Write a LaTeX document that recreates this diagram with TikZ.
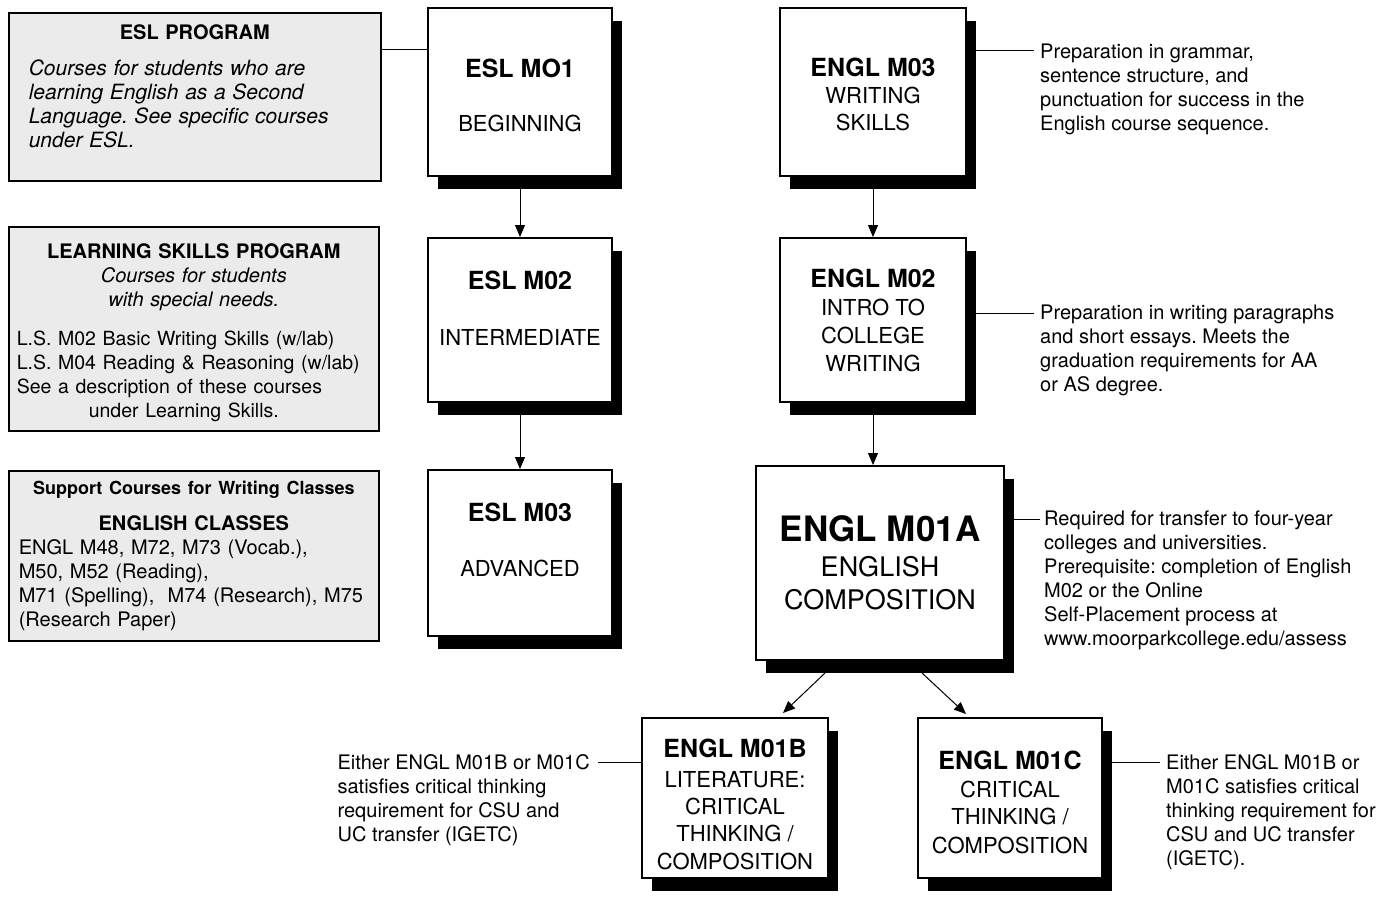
\documentclass[tikz,border=0pt]{standalone}
\usepackage{fontspec}
\setmainfont{TeX Gyre Heros}
\frenchspacing
\usetikzlibrary{arrows.meta, shadows, positioning}
\tikzstyle{program} = [
    rectangle, draw=black, line width=1.6pt, fill=black!8, anchor=north west,
    inner ysep=0pt, align=left, font=\fontsize{20}{24}\selectfont
]
\tikzstyle{course} = [
    rectangle, draw=black, line width=2pt, fill=white, align=center,
    minimum width=184pt, minimum height=166pt, inner sep=0pt,
    drop shadow={shadow xshift=10pt, shadow yshift=-13pt, opacity=1, fill=black},
    font=\fontsize{22}{27}\selectfont
]
\tikzstyle{note} = [inner sep=0pt, align=left, font=\fontsize{20}{24}\selectfont]
\tikzstyle{arrow} = [line width=1pt, -{Triangle[length=12pt, width=10pt]}]
\tikzstyle{link} = [line width=1pt]
% titulo de curso; el argumento opcional baja el texto
\newcommand{\ctitle}[2][18pt]{{\fontsize{25}{27}\selectfont\bfseries\rule{0pt}{#1}#2}}

\begin{document}
\begin{tikzpicture}[x=1pt, y=-1pt]
\useasboundingbox (0,0) rectangle (1394,899);

% Programas (izquierda)
\node (g1) [program, minimum width=372pt, minimum height=168pt, inner xsep=20pt, text width=332pt, text depth=130pt] at (8,12)
  {{\centering\bfseries ESL PROGRAM\par}\vspace{12pt}
   {\fontsize{21}{24}\selectfont\itshape Courses for students who are\\learning English as a Second\\Language. See specific courses\\under ESL.\par}};
\node (g2) [program, minimum width=370pt, minimum height=204pt, inner xsep=8pt, text width=354pt] at (8,226)
  {{\centering\bfseries\rule{0pt}{22.5pt}LEARNING SKILLS PROGRAM\par
    \mdseries\itshape Courses for students\\with special needs.\par}\vspace{15pt}
   {\fontsize{19.5}{24}\selectfont L.S. M02 Basic Writing Skills (w/lab)\\L.S. M04 Reading \& Reasoning (w/lab)\\See a description of these courses\\\hspace*{72pt}under Learning Skills.\par}};
\node (g3) [program, minimum width=370pt, minimum height=170pt, inner xsep=10pt, text width=350pt] at (8,470)
  {{\centering\fontsize{18}{22}\selectfont\bfseries Support Courses for Writing Classes\par}\vspace{12pt}
   {\centering\bfseries ENGLISH CLASSES\par}
   ENGL M48, M72, M73 (Vocab.),\\M50, M52 (Reading),\\M71 (Spelling),\ \ M74 (Research), M75\\(Research Paper)};

% Columna ESL
\node (e1) [course, minimum height=168pt] at (520,92) {\ctitle[26pt]{ESL MO1}\\[27pt]BEGINNING};
\node (e2) [course, minimum height=164pt, text depth=24pt, below=60pt of e1] {\ctitle{ESL M02}\\[29pt]INTERMEDIATE};
\node (e3) [course, text depth=26pt, below=66pt of e2] {\ctitle{ESL M03}\\[28pt]ADVANCED};

% Columna ENGL
\node (m03) [course, minimum width=186pt, minimum height=168pt] at (873,92) {\ctitle[24pt]{ENGL M03}\\WRITING\\SKILLS};
\node (m02) [course, minimum width=186pt, minimum height=164pt, below=60pt of m03] {\ctitle{ENGL M02}\\[1pt]INTRO TO\\[1pt]COLLEGE\\[1pt]WRITING};
\node (mA) [course, minimum width=248pt, minimum height=194pt, font=\fontsize{27}{33}\selectfont] at (880,563)
  {{\fontsize{35}{36}\selectfont\bfseries ENGL M01A}\\[2pt]ENGLISH\\COMPOSITION};
\node (mB) [course, minimum width=186pt, minimum height=160pt] at (735,798)
  {\ctitle[32pt]{ENGL M01B}\\[3pt]LITERATURE:\\CRITICAL\\THINKING /\\[1pt]COMPOSITION};
\node (mC) [course, minimum height=160pt] at (1010,798)
  {\ctitle[28pt]{ENGL M01C}\\[1pt]CRITICAL\\THINKING /\\[2pt]COMPOSITION};

% Notas
\node (t3) [note, anchor=north west] at (1040,44)
  {Preparation in grammar,\\sentence structure, and\\punctuation for success in the\\English course sequence.};
\node (t2) [note, anchor=north west] at (1040,305)
  {Preparation in writing paragraphs\\and short essays. Meets the\\graduation requirements for AA\\or AS degree.};
\node (tA) [note, anchor=north west] at (1044,511)
  {Required for transfer to four-year\\colleges and universities.\\Prerequisite: completion of English\\M02 or the Online\\Self-Placement process at\\www.moorparkcollege.edu/assess};
\node (tB) [note, anchor=north east] at (590,754)
  {Either ENGL M01B or M01C\\satisfies critical thinking\\requirement for CSU and\\UC transfer (IGETC)};
\node (tC) [note, anchor=north west] at (1166,754)
  {Either ENGL M01B or\\M01C satisfies critical\\thinking requirement for\\CSU and UC transfer\\(IGETC).};

% Enlaces
\coordinate (j1) at (0,50);
\coordinate (k3) at ([shift={(-6pt,-7pt)}]t3.north west);
\coordinate (k2) at ([shift={(-6pt,-8pt)}]t2.north west);
\coordinate (kA) at ([shift={(-4pt,-8pt)}]tA.north west);
\coordinate (kB) at ([shift={(8pt,-8pt)}]tB.north east);
\coordinate (kC) at ([shift={(-6pt,-8pt)}]tC.north west);
\draw [link] (j1 -| g1.east) -- (j1 -| e1.west);
\draw [link] (k3) -- (k3 -| m03.east);
\draw [link] (k2) -- (k2 -| m02.east);
\draw [link] (kA) -- (kA -| mA.east);
\draw [link] (kB) -- (kB -| mB.west);
\draw [link] (kC) -- (kC -| mC.east);

% Flechas
\draw [arrow] (e1) -- (e2);
\draw [arrow] (e2) -- (e3);
\draw [arrow] (m03) -- (m02);
\draw [arrow] (m02) -- (m02 |- mA.north);
\draw [arrow] ([shift={(-55pt,-12pt)}]mA.south) -- ([shift={(48pt,4pt)}]mB.north);
\draw [arrow] ([shift={(42pt,-12pt)}]mA.south) -- ([shift={(-44pt,3pt)}]mC.north);

\end{tikzpicture}
\end{document}
